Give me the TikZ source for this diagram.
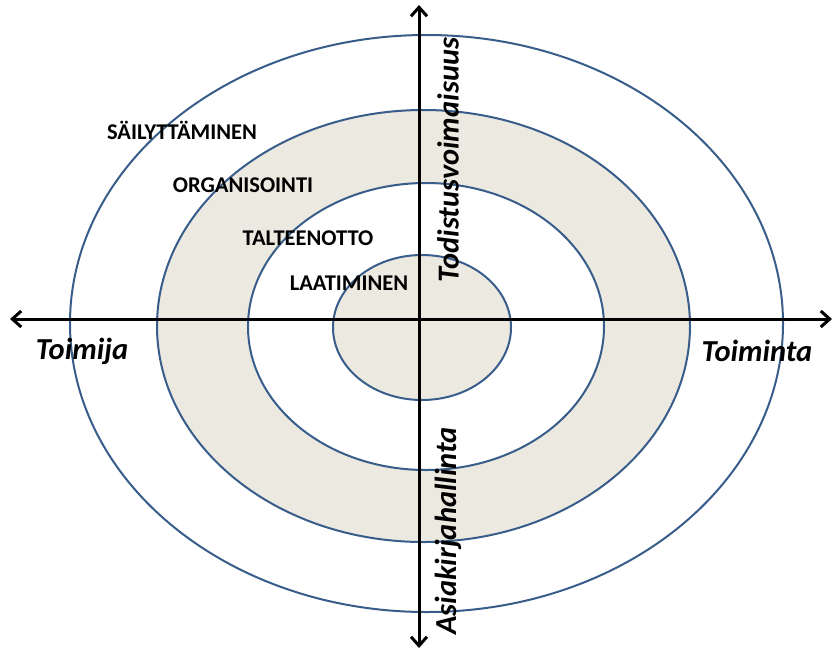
\documentclass[tikz,border=0pt]{standalone}
\usepackage{fontspec}
\setmainfont{Carlito}
\usetikzlibrary{arrows.meta, positioning}
\definecolor{ringBlue}{RGB}{56, 93, 138}
\definecolor{ringFill}{RGB}{236, 233, 224}

\begin{document}
\begin{tikzpicture}[
  x=1pt, y=-1pt,
  ring/.style={draw=ringBlue, line width=2pt},
  axis/.style={-{Straight Barb[length=9pt, width=16pt, line width=3pt]}, line width=3pt, black},
  phase/.style={font=\fontsize{22.5}{26}\selectfont\bfseries, inner sep=0pt},
  pole/.style={font=\fontsize{30.5}{34}\selectfont\bfseries\itshape, inner sep=0pt}
]
\useasboundingbox (0,0) rectangle (834,651);

% rings
\draw[ring] (426.5,323.5) ellipse [x radius=356.5, y radius=288.5];
\draw[ring, fill=ringFill] (423.5,326) ellipse [x radius=266.5, y radius=216];
\draw[ring, fill=white] (426,326.5) ellipse [x radius=178, y radius=143.5];
\draw[ring, fill=ringFill] (422,327.5) ellipse [x radius=89, y radius=72.5];

% axes
\coordinate (origin) at (419,319);
\coordinate (west) at (10,319);
\coordinate (east) at (832,319);
\coordinate (north) at (419,5);
\coordinate (south) at (419,648);
\draw[axis] (origin) -- (west);
\draw[axis] (origin) -- (east);
\draw[axis] (origin) -- (north);
\draw[axis] (origin) -- (south);

% labels
\node[pole] (toimija) at (82,351) {Toimija};
\node[pole] (toiminta) at (757,351) {Toiminta};
\node[pole, rotate=90] (todistus) at (448,160) {Todistusvoimaisuus};
\node[pole, rotate=90] (asiakirja) at (448,531) {Asiakirjahallinta};

\node[phase] (sailytys) at (182,130) {SÄILYTTÄMINEN};
\node[phase] (organisointi) at (243,185) {ORGANISOINTI};
\node[phase] (talteenotto) at (308,238) {TALTEENOTTO};
\node[phase] (laatiminen) at (349,283) {LAATIMINEN};
\end{tikzpicture}
\end{document}
